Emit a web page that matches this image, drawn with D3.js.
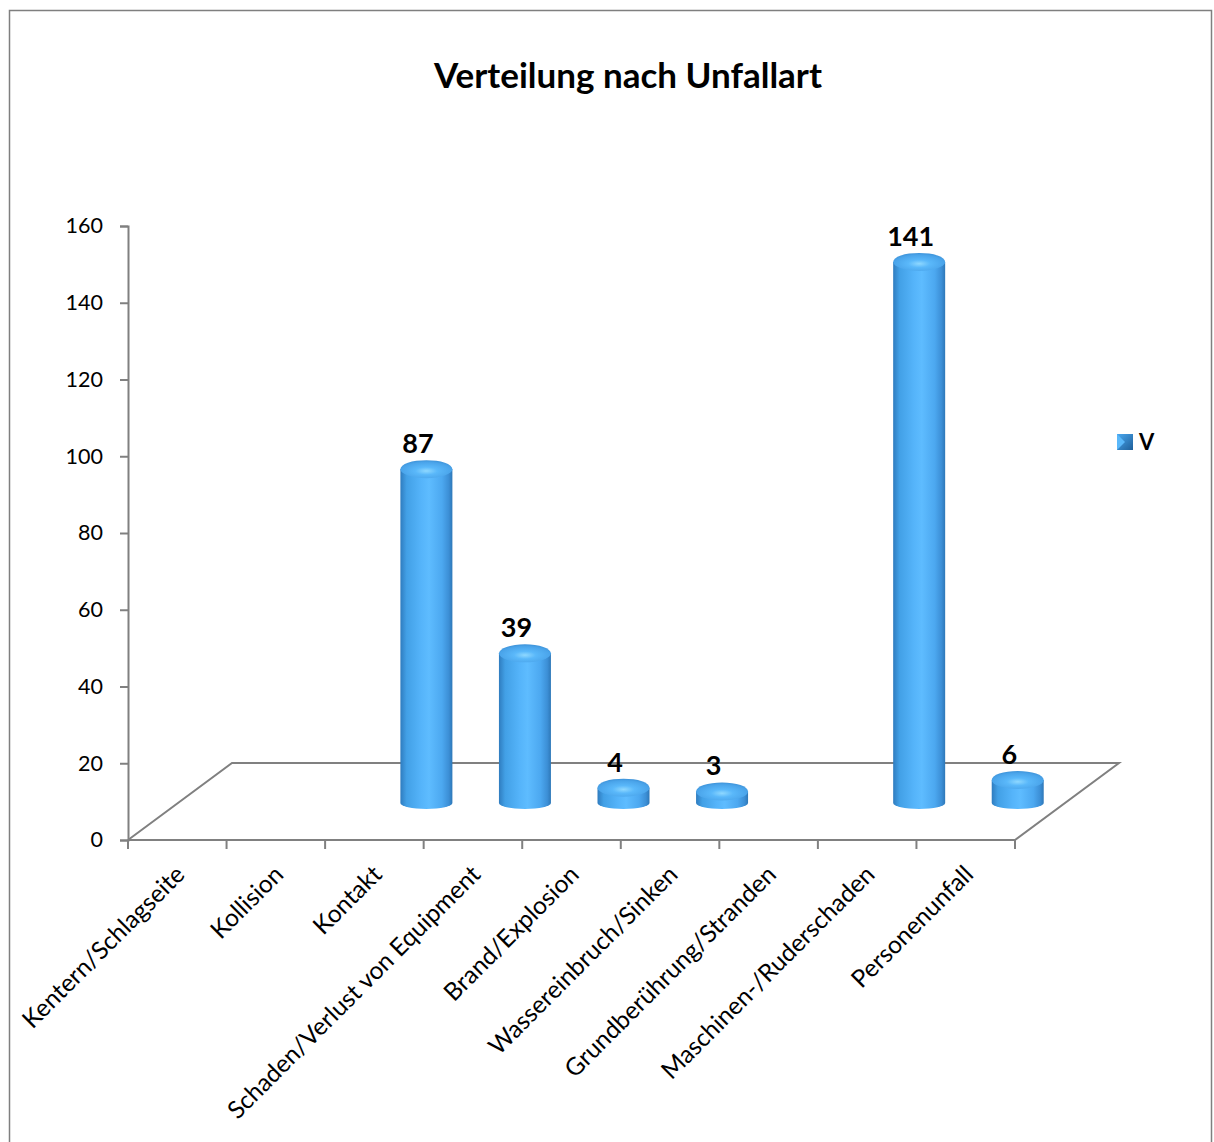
<!DOCTYPE html>
<html>
<head>
<meta charset="utf-8">
<script src="https://cdn.jsdelivr.net/npm/d3@7"></script>
<style>
  body { margin: 0; background: #fff; }
  svg text { font-family: Lato, "Open Sans", sans-serif; fill: #000; }
</style>
</head>
<body>
<div id="chart"></div>
<script>
// chart data
var categories = ["Kentern/Schlagseite", "Kollision", "Kontakt", "Schaden/Verlust von Equipment",
  "Brand/Explosion", "Wassereinbruch/Sinken", "Grundberührung/Stranden",
  "Maschinen-/Ruderschaden", "Personenunfall"];
var values = [null, null, 87, 39, 4, 3, null, 141, 6];
var yTicks = [0, 20, 40, 60, 80, 100, 120, 140, 160];
var seriesName = "V";
var chartTitle = "Verteilung nach Unfallart";

var svgWidth = 1214;
var svgHeight = 1142;

// plot area (front plane) and 3d depth offset
var plot = { left: 128, right: 1015, top: 226, bottom: 840 };
var depth = { dx: 104, dy: -77 };

var svg = d3.select("#chart").append("svg")
  .attr("width", svgWidth)
  .attr("height", svgHeight);

var defs = svg.append("defs");

var bodyGrad = defs.append("linearGradient").attr("id", "bodyGrad")
  .attr("x1", "0%").attr("x2", "100%").attr("y1", "0%").attr("y2", "0%");
[["0%", "#2f7cbf"], ["12%", "#42a0e6"], ["40%", "#55b4fa"], ["55%", "#5ebcff"],
 ["80%", "#4ca8f0"], ["93%", "#3c8fd6"], ["100%", "#2e78b8"]].forEach(function(s) {
  bodyGrad.append("stop").attr("offset", s[0]).attr("stop-color", s[1]);
});

var topGrad = defs.append("radialGradient").attr("id", "topGrad")
  .attr("cx", "50%").attr("cy", "60%").attr("r", "60%");
[["0%", "#8fd8ff"], ["35%", "#5ab8fa"], ["80%", "#4aa4ea"], ["100%", "#3d92d8"]].forEach(function(s) {
  topGrad.append("stop").attr("offset", s[0]).attr("stop-color", s[1]);
});

var legGrad = defs.append("linearGradient").attr("id", "legGrad")
  .attr("x1", "0%").attr("x2", "100%").attr("y1", "0%").attr("y2", "100%");
legGrad.append("stop").attr("offset", "0%").attr("stop-color", "#4aa8f0");
legGrad.append("stop").attr("offset", "100%").attr("stop-color", "#1f5f99");

// outer frame
svg.append("path")
  .attr("d", "M9.5," + svgHeight + " L9.5,10.5 L1211.5,10.5 L1211.5," + svgHeight)
  .attr("fill", "none")
  .attr("stroke", "#7f7f7f")
  .attr("stroke-width", 1.5);

// title
svg.append("text")
  .attr("x", 628)
  .attr("y", 88)
  .attr("text-anchor", "middle")
  .attr("font-size", "35px")
  .attr("font-weight", "bold")
  .text(chartTitle);

// scales
var x = d3.scaleBand()
  .domain(categories)
  .range([plot.left, plot.right])
  .padding(0);

var y = d3.scaleLinear()
  .domain([0, 160])
  .range([plot.bottom, plot.top]);

// floor
svg.append("path")
  .attr("d", "M" + plot.left + "," + plot.bottom +
    " L" + (plot.left + depth.dx) + "," + (plot.bottom + depth.dy) +
    " L" + (plot.right + depth.dx) + "," + (plot.bottom + depth.dy) +
    " L" + plot.right + "," + plot.bottom)
  .attr("fill", "none")
  .attr("stroke", "#808080")
  .attr("stroke-width", 2);

// y axis
var leftAxis = d3.axisLeft(y).tickValues(yTicks).tickSize(8).tickPadding(17);
var yAxis = svg.append("g")
  .attr("transform", "translate(" + plot.left + ",0)")
  .call(leftAxis);
yAxis.select(".domain").attr("stroke", "#808080").attr("stroke-width", 2);
yAxis.selectAll(".tick line").attr("stroke", "#808080").attr("stroke-width", 2);
yAxis.selectAll(".tick text")
  .attr("font-size", "21.5px")
  .attr("font-family", "Lato, sans-serif")
  .attr("fill", "#000");

// x axis line and boundary ticks
svg.append("line")
  .attr("x1", plot.left).attr("x2", plot.right)
  .attr("y1", plot.bottom).attr("y2", plot.bottom)
  .attr("stroke", "#808080").attr("stroke-width", 2);

svg.selectAll(".xtick")
  .data(d3.range(categories.length + 1))
  .enter()
  .append("line")
  .attr("x1", function(i) { return plot.left + i * x.step(); })
  .attr("x2", function(i) { return plot.left + i * x.step(); })
  .attr("y1", plot.bottom)
  .attr("y2", plot.bottom + 9)
  .attr("stroke", "#808080").attr("stroke-width", 2);

// category labels
svg.selectAll(".catLabel")
  .data(categories)
  .enter()
  .append("text")
  .attr("text-anchor", "end")
  .attr("font-size", "24.5px")
  .attr("transform", function(d) {
    var cx = x(d) + x.bandwidth() / 2 + 9;
    return "translate(" + cx + "," + 876 + ") rotate(-45)";
  })
  .text(function(d) { return d; });

// cylinders
var rx = 26;
var lift = 37;
var bars = categories.map(function(c, i) { return { cat: c, value: values[i] }; })
  .filter(function(d) { return d.value != null; });

var barGroup = svg.selectAll(".bar")
  .data(bars)
  .enter()
  .append("g")
  .attr("class", "bar");

function cxOf(d) { return x(d.cat) + x.bandwidth() / 2 + depth.dx / 2; }
function baseOf() { return y(0) - lift; }
function topOf(d) { return y(d.value) - lift; }

barGroup.append("path")
  .attr("d", function(d) {
    var cx = cxOf(d), b = baseOf(), t = topOf(d);
    return "M" + (cx - rx) + "," + t + " L" + (cx - rx) + "," + b +
      " A" + rx + ",6 0 0,0 " + (cx + rx) + "," + b +
      " L" + (cx + rx) + "," + t + " Z";
  })
  .attr("fill", "url(#bodyGrad)");

barGroup.append("ellipse")
  .attr("cx", cxOf)
  .attr("cy", topOf)
  .attr("rx", rx)
  .attr("ry", 9)
  .attr("fill", "url(#topGrad)");

// value labels
barGroup.append("text")
  .attr("x", function(d) { return cxOf(d) - 8.5; })
  .attr("y", function(d) { return topOf(d) - 16; })
  .attr("text-anchor", "middle")
  .attr("font-size", "27px")
  .attr("font-weight", "bold")
  .text(function(d) { return d.value; });

// legend
svg.append("rect")
  .attr("x", 1117).attr("y", 434)
  .attr("width", 16).attr("height", 16)
  .attr("fill", "url(#legGrad)");
svg.append("path")
  .attr("d", "M1117,434 L1125,442 L1117,450 Z")
  .attr("fill", "#5ab8fa");
svg.append("text")
  .attr("x", 1139)
  .attr("y", 450)
  .attr("font-size", "22px")
  .attr("font-weight", "bold")
  .text(seriesName);
</script>
</body>
</html>
